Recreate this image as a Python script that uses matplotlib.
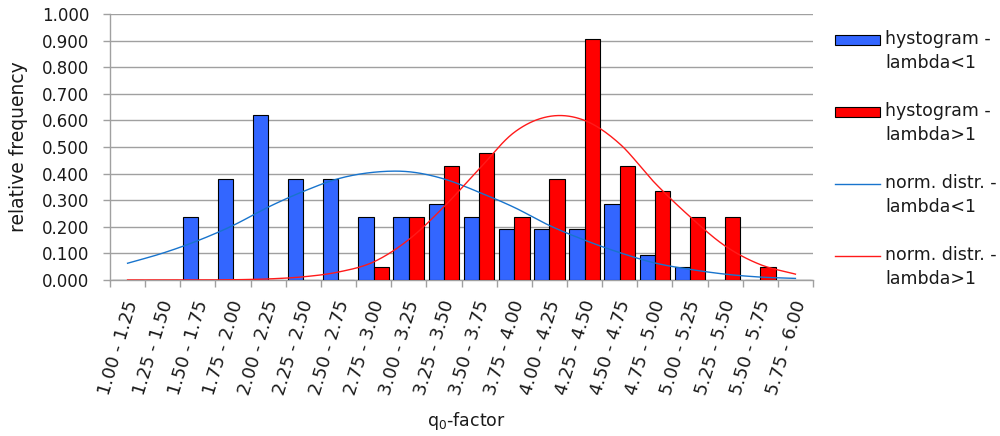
import numpy as np
import matplotlib
matplotlib.use("Agg")
import matplotlib.pyplot as plt
from matplotlib.patches import Rectangle
from matplotlib.lines import Line2D
import matplotlib.transforms as mtransforms

plt.rcParams['font.family'] = ['DejaVu Sans']

# q0-factor bins
bins = ["1.00 - 1.25", "1.25 - 1.50", "1.50 - 1.75", "1.75 - 2.00", "2.00 - 2.25",
        "2.25 - 2.50", "2.50 - 2.75", "2.75 - 3.00", "3.00 - 3.25", "3.25 - 3.50",
        "3.50 - 3.75", "3.75 - 4.00", "4.00 - 4.25", "4.25 - 4.50", "4.50 - 4.75",
        "4.75 - 5.00", "5.00 - 5.25", "5.25 - 5.50", "5.50 - 5.75", "5.75 - 6.00"]

# relative frequencies
hist_lt1 = [0.000, 0.000, 0.238, 0.381, 0.619, 0.381, 0.381, 0.238, 0.238, 0.286,
            0.238, 0.190, 0.190, 0.190, 0.286, 0.095, 0.048, 0.000, 0.000, 0.000]
hist_gt1 = [0.000, 0.000, 0.000, 0.000, 0.000, 0.000, 0.000, 0.048, 0.238, 0.429,
            0.476, 0.238, 0.381, 0.905, 0.429, 0.333, 0.238, 0.238, 0.048, 0.000]

# normal distribution curves evaluated at bin centres
norm_lt1 = [0.063, 0.101, 0.148, 0.205, 0.274, 0.333, 0.381, 0.405, 0.407, 0.380,
            0.330, 0.273, 0.205, 0.150, 0.103, 0.064, 0.040, 0.022, 0.011, 0.006]
norm_gt1 = [0.000, 0.000, 0.000, 0.001, 0.004, 0.012, 0.030, 0.068, 0.152, 0.275,
            0.417, 0.555, 0.615, 0.600, 0.512, 0.365, 0.238, 0.128, 0.058, 0.022]

y_ticks = [0.0, 0.1, 0.2, 0.3, 0.4, 0.5, 0.6, 0.7, 0.8, 0.9, 1.0]

legend_labels = ["hystogram -\nlambda<1", "hystogram -\nlambda>1",
                 "norm. distr. -\nlambda<1", "norm. distr. -\nlambda>1"]

BLUE_BAR = "#3366FF"
RED_BAR = "#FF0000"
BLUE_LINE = "#1874CD"
RED_LINE = "#FF1A1A"
GRID = "#A0A0A0"
TEXT = "#1A1A1A"


def smooth(xs, ys, n=20):
    """Catmull-Rom spline through the given points."""
    xs = np.asarray(xs, float)
    ys = np.asarray(ys, float)
    px = np.concatenate([[2 * xs[0] - xs[1]], xs, [2 * xs[-1] - xs[-2]]])
    py = np.concatenate([[2 * ys[0] - ys[1]], ys, [2 * ys[-1] - ys[-2]]])
    out_x, out_y = [], []
    t = np.linspace(0, 1, n, endpoint=False)
    for i in range(1, len(px) - 2):
        for arr, out in ((px, out_x), (py, out_y)):
            p0, p1, p2, p3 = arr[i - 1], arr[i], arr[i + 1], arr[i + 2]
            seg = 0.5 * ((2 * p1) + (-p0 + p2) * t
                         + (2 * p0 - 5 * p1 + 4 * p2 - p3) * t ** 2
                         + (-p0 + 3 * p1 - 3 * p2 + p3) * t ** 3)
            out.extend(seg)
    out_x.append(xs[-1])
    out_y.append(ys[-1])
    return np.array(out_x), np.array(out_y)


fig = plt.figure(figsize=(10, 4.36), dpi=100)
ax = fig.add_axes([0.110, 1 - 280 / 436, 0.703, 266 / 436])

x = np.arange(len(bins))
w = 0.435
ax.bar(x - w / 2, hist_lt1, width=w, color=BLUE_BAR, edgecolor="black", linewidth=0.8, zorder=3)
ax.bar(x + w / 2, hist_gt1, width=w, color=RED_BAR, edgecolor="black", linewidth=0.8, zorder=3)

sx, sy = smooth(x, norm_lt1)
ax.plot(sx, sy, color=BLUE_LINE, lw=1.0, zorder=4)
sx, sy = smooth(x, norm_gt1)
ax.plot(sx, np.clip(sy, 0, None), color=RED_LINE, lw=1.0, zorder=4)

ax.set_xlim(-0.5, len(bins) - 0.5)
ax.set_ylim(0, 1.0)
ax.set_yticks(y_ticks)
ax.set_yticklabels([f"{v:.3f}" for v in y_ticks], fontsize=12, color=TEXT)
ax.yaxis.grid(True, color=GRID, lw=1.0, zorder=0)
ax.set_axisbelow(True)

ax.set_xticks(np.arange(len(bins) + 1) - 0.5)
ax.set_xticklabels([])
ax.set_xticks(x, minor=True)
ax.set_xticklabels(bins, minor=True, fontsize=13, rotation=73, color=TEXT,
                   ha="right", va="center", rotation_mode="anchor")
ax.tick_params(axis="x", which="major", length=5, color=GRID, width=1.0)
ax.tick_params(axis="x", which="minor", length=0, pad=15)
ax.tick_params(axis="y", length=5, color=GRID, width=1.0, pad=10)
offset = mtransforms.ScaledTranslation(5 / 100, 0, fig.dpi_scale_trans)
for lab in ax.get_xticklabels(minor=True):
    lab.set_transform(lab.get_transform() + offset)

for side in ("top", "right"):
    ax.spines[side].set_visible(False)
for side in ("left", "bottom"):
    ax.spines[side].set_color(GRID)
    ax.spines[side].set_linewidth(1.0)

ax.set_ylabel("relative frequency", fontsize=13.5, color=TEXT)
ax.yaxis.set_label_coords(-0.117, 0.5)
ax.set_xlabel("q$_0$-factor", fontsize=12.5, color=TEXT)
ax.xaxis.set_label_coords(0.507, -0.49)


# legend drawn in figure pixel coordinates
def fx(px):
    return px / 1000


def fy(py):
    return 1 - py / 436


handles = [("patch", BLUE_BAR), ("patch", RED_BAR), ("line", BLUE_LINE), ("line", RED_LINE)]
for i, ((kind, col), label) in enumerate(zip(handles, legend_labels)):
    yc = 40 + 72 * i
    if kind == "patch":
        fig.patches.append(Rectangle((fx(835), fy(yc + 5)), fx(45), 10 / 436,
                                     facecolor=col, edgecolor="black", lw=0.8,
                                     transform=fig.transFigure))
    else:
        fig.lines.append(Line2D([fx(835), fx(880)], [fy(yc), fy(yc)], color=col,
                                lw=1.0, transform=fig.transFigure))
    fig.text(fx(885), fy(yc - 10), label, fontsize=12.5, va="top", color=TEXT,
             ha="left", linespacing=1.45, transform=fig.transFigure)

fig.savefig("out.png", dpi=100)
